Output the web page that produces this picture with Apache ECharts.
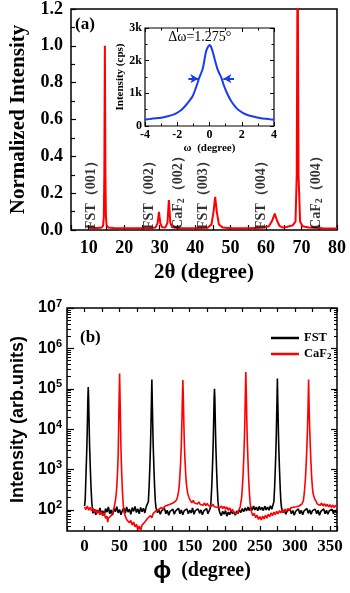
<!DOCTYPE html>
<html><head><meta charset="utf-8">
<script src="https://cdn.jsdelivr.net/npm/echarts@6/dist/echarts.min.js"></script>
<style>html,body{margin:0;padding:0;background:#fff}#c{width:350px;height:593px}</style>
</head><body><div id="c"></div>
<script>
// ---------- (a) XRD theta-2theta scan ----------
const xrdScan = [
  [10,0.012],[11,0.011],[12.5,0.011],[13.7,0.013],[14.05,0.025],[14.25,0.07],[14.4,0.3],[14.55,1.0],[14.7,0.3],[14.85,0.07],[15.05,0.025],[15.5,0.014],[17,0.011],[20,0.01],[24,0.01],[27,0.01],
  [28.8,0.013],[29.4,0.035],[29.8,0.098],[30.2,0.035],[30.7,0.015],[31.6,0.013],[32.2,0.04],[32.6,0.163],[33.0,0.04],[33.5,0.015],[35,0.011],[40,0.01],[43.5,0.012],
  [44.6,0.03],[45.2,0.1],[45.65,0.18],[46.1,0.1],[46.7,0.03],[47.8,0.013],[50,0.01],[55,0.01],[59,0.012],[60.8,0.02],[61.7,0.05],[62.45,0.089],[63.1,0.05],[63.8,0.022],
  [64.6,0.014],[65.5,0.015],[66.5,0.02],[67.5,0.025],[68.3,0.045],[68.65,0.3],[68.9,1.6],[69.15,0.3],[69.6,0.045],[70.3,0.02],[72,0.014],[76,0.01],[80,0.008]
];
const peakLabelPos = [10.95, 27.2, 35.3, 42.6, 58.9, 74.2];
const peakLabelText = ['FST\uFF08001\uFF09','FST\uFF08002\uFF09','CaF{sub|2}\uFF08002\uFF09','FST\uFF08003\uFF09','FST\uFF08004\uFF09','CaF{sub|2}\uFF08004\uFF09'];

// ---------- inset: rocking curve ----------
const rockCurve = [
  [-4,200],[-3.7,215],[-3.3,240],[-3,255],[-2.65,292],[-2.3,340],[-2.04,396],[-1.75,490],[-1.52,604],[-1.25,770],[-1.04,917],[-0.8,1229],[-0.65,1458],[-0.42,1750],[-0.22,2271],[-0.1,2420],
  [0,2480],[0.08,2440],[0.2,2271],[0.49,1750],[0.75,1458],[0.9,1229],[1.17,917],[1.35,760],[1.58,604],[1.8,490],[2.09,396],[2.4,330],[2.71,292],[3.2,240],[3.74,208],[4,195]
];
const fwhmArrowLeft = [[-1.31,1450],[-0.69,1450]];
const fwhmArrowRight = [[1.52,1450],[0.86,1450]];
const fwhmText = '\u0394\u03C9=1.275\u00B0';
const fwhmTextAt = [-0.6, 2720];

// ---------- (b) phi scans ----------
const fstScan = [
  [0,125],[1,180],[2.3,1000],[3.3,3500],[3.8,8000],[4.3,22000],[4.8,60000],[5.3,110000],[5.8,60000],[6.3,22000],[6.8,8000],[7.3,3500],[8.3,1000],[9.3,350],[10.3,160],[11.3,105],
  [12,82],[14,104],[16,76],[18,98],[20,85],[22,112],[24,78],[26,95],[28,72],[30,108],[32,88],[34,118],[36,80],[38,100],[40,74],[42,110],[44,90],[46,120],[48,84],[50,102],[52,76],[54,96],[56,112],[58,82],[60,118],[62,88],[64,104],[66,78],[68,114],[70,92],[72,122],[74,86],[76,106],[78,80],[80,115],[82,90],[84,110],[86,84],[88,120],
  [90,110],[91,160],[92,350],[93,1000],[94,3500],[94.5,8000],[95,22000],[95.5,60000],[96,170000],[96.5,60000],[97,22000],[97.5,8000],[98,3500],[99,1000],[100,350],[101,160],[102,110],
  [104,85],[106,100],[108,78],[110,96],[112,88],[114,108],[116,80],[118,98],[120,74],[122,92],[124,84],[126,104],[128,78],[130,95],[132,86],[134,110],[136,80],[138,100],[140,76],[142,94],[144,88],[146,106],[148,80],[150,98],[152,84],[154,112],[156,78],[158,96],[160,88],[162,106],[164,82],[166,100],[168,76],[170,94],[172,86],[174,108],[176,80],[178,98],
  [179.3,110],[180.3,160],[181.3,350],[182.3,1000],[183.3,3500],[183.8,8000],[184.3,22000],[184.8,60000],[185.3,100000],[185.8,60000],[186.3,22000],[186.8,8000],[187.3,3500],[188.3,1000],[189.3,350],[190.3,160],[191.3,110],
  [193,84],[195,72],[197,92],[199,78],[201,96],[203,70],[205,88],[207,76],[209,98],[211,80],[213,90],[215,74],[217,95],[219,82],[221,100],[223,86],[225,108],[227,90],[229,112],[231,94],[233,118],[235,96],[237,120],[239,98],[241,125],[243,100],[245,118],[247,95],[249,122],[251,100],[253,115],[255,96],[257,124],[259,100],[261,118],[263,98],[265,126],[267,104],
  [269,115],[270,160],[271,350],[272,1000],[273,3500],[273.5,8000],[274,22000],[274.5,60000],[275,180000],[275.5,60000],[276,22000],[276.5,8000],[277,3500],[278,1000],[279,350],[280,160],[281,110],
  [283,86],[285,100],[287,78],[289,94],[291,84],[293,104],[295,80],[297,96],[299,74],[301,92],[303,86],[305,106],[307,80],[309,98],[311,76],[313,94],[315,88],[317,108],[319,82],[321,100],[323,78],[325,96],[327,86],[329,104],[331,80],[333,98],[335,74],[337,92],[339,86],[341,106],[343,80],[345,98],[347,78],[349,95],[351,86],[353,104],[355,80],[357,98],[359,84],[360,92]
];
const caf2Scan = [
  [0,118],[2,102],[4,125],[6,98],[8,115],[10,95],[12,110],[14,88],[16,102],[18,82],[20,96],[22,76],[24,90],[26,72],[28,84],[30,62],[32,70],[33,50],[34,62],[36,56],[38,72],[40,85],[42,110],
  [44,170],[45,230],[46,380],[47,800],[48,2500],[48.5,7000],[49,29000],[49.5,84000],[50,240000],[50.5,84000],[51,29000],[51.5,9000],[52,3000],[53,800],[54,300],[55,150],[56,95],
  [58,70],[60,58],[62,64],[64,48],[66,55],[68,42],[70,50],[72,38],[74,44],[76,33],[78,40],[80,31],[82,42],[84,38],[86,50],[88,46],[90,62],[92,56],[94,72],[96,64],[98,82],[100,76],[102,94],[104,86],[106,104],[108,94],[110,115],[112,102],[114,122],[116,110],[118,130],[120,118],[122,138],[124,126],[126,148],[128,140],[130,165],
  [132,190],[134,280],[135,400],[136,700],[137,1500],[138,4000],[138.7,12000],[139.2,30000],[139.7,80000],[140.2,165000],[140.7,80000],[141.2,30000],[141.7,12000],[142.4,4000],[143.4,1500],[144.4,700],[145.5,400],[147,260],[149,200],
  [151,170],[153,150],[155,172],[157,148],[159,165],[161,140],[163,158],[165,136],[167,152],[169,130],[171,148],[173,128],[175,145],[177,126],[179,140],[181,122],[183,138],[185,120],[187,134],[189,116],[191,130],[193,112],[195,126],[197,108],[199,122],[201,104],[203,118],[205,98],[207,112],[209,92],[211,104],[213,86],[215,96],[217,80],[219,90],
  [221,95],[222,120],[224,200],[225,350],[226,700],[227,1800],[228,6000],[228.7,20000],[229.2,60000],[230,260000],[230.8,60000],[231.3,20000],[232,6000],[233,1800],[234,600],[235,280],[236,160],[237,110],
  [238,90],[240,72],[242,82],[244,64],[246,74],[248,58],[250,68],[252,56],[254,70],[256,60],[258,74],[260,62],[262,78],[264,68],[266,84],[268,72],[270,88],[272,76],[274,92],[276,80],[278,96],[280,84],[282,100],[284,88],[286,104],[288,92],[290,108],[292,96],[294,112],[296,100],[298,116],[300,104],[302,120],[304,108],[306,125],[308,115],
  [310,140],[312,170],[313,230],[314,350],[315,600],[316,1300],[317,3500],[318,11000],[318.8,40000],[319.5,170000],[320.2,40000],[321,11000],[322,3500],[323,1300],[324,600],[325,350],[326,250],[328,190],
  [330,165],[332,140],[334,155],[336,130],[338,148],[340,125],[342,142],[344,122],[346,138],[348,118],[350,135],[352,116],[354,132],[356,114],[358,130],[360,118]
];
const logMajor = [1e2,1e3,1e4,1e5,1e6,1e7];
const logMinor = [40,50,60,70,80,90];
[100,1000,10000,100000,1000000].forEach(d => { for (let k = 2; k <= 9; k++) logMinor.push(k * d); });

const SERIF = 'Liberation Serif';
const SANS = 'Liberation Sans';
const RED = '#ff0000';
const BLUE = '#1a3cf0';

const chart = echarts.init(document.getElementById('c'), null, {renderer: 'canvas'});

const noLine = {show: false, onZero: false};
const hiddenAxisCommon = {axisLine: noLine, splitLine: {show: false}, axisLabel: {show: false}};

const option = {
  animation: false,
  backgroundColor: '#fff',
  grid: [
    {left: 68, top: 8, width: 269, height: 222, show: true, borderColor: '#000', borderWidth: 1.5, backgroundColor: 'transparent'},
    {left: 145, top: 28, width: 129, height: 98, show: true, borderColor: '#000', borderWidth: 1.2, backgroundColor: '#fff'},
    {left: 67, top: 308, width: 270, height: 223, show: true, borderColor: '#000', borderWidth: 1.5, backgroundColor: 'transparent'}
  ],
  legend: {
    orient: 'vertical', left: 266, top: 326, itemGap: 2, itemWidth: 28, itemHeight: 2.5, icon: 'rect',
    data: ['FST', 'CaF2'],
    formatter: n => n === 'CaF2' ? 'CaF{sub|2}' : n,
    textStyle: {fontFamily: SERIF, fontWeight: 'bold', fontSize: 12.5, color: '#000', lineHeight: 14,
      rich: {sub: {fontFamily: SERIF, fontWeight: 'bold', fontSize: 9, verticalAlign: 'bottom', lineHeight: 14, padding: [5, 0, 0, 0]}}}
  },
  xAxis: [
    {gridIndex: 0, type: 'value', min: 5, max: 80, interval: 5,
      axisLine: noLine, splitLine: {show: false},
      axisTick: {inside: true, length: 5, lineStyle: {color: '#000', width: 1.2}},
      axisLabel: {margin: 9, fontFamily: SERIF, fontWeight: 'bold', fontSize: 18, color: '#000', formatter: v => v % 10 === 0 ? String(v) : ''},
      name: '2\u03B8 (degree)', nameLocation: 'middle', nameGap: 32,
      nameTextStyle: {fontFamily: SERIF, fontWeight: 'bold', fontSize: 21, color: '#000'}},
    {gridIndex: 1, type: 'value', min: -4, max: 4, interval: 2,
      axisLine: noLine, splitLine: {show: false},
      axisTick: {inside: true, length: 4, lineStyle: {color: '#000', width: 1}},
      minorTick: {show: true, splitNumber: 2, length: 2.5, lineStyle: {color: '#000', width: 1}},
      axisLabel: {margin: 3, fontFamily: SERIF, fontWeight: 'bold', fontSize: 12, color: '#000'},
      name: '\u03C9  (degree)', nameLocation: 'middle', nameGap: 17,
      nameTextStyle: {fontFamily: SERIF, fontWeight: 'bold', fontSize: 11, color: '#000'}},
    Object.assign({gridIndex: 1, type: 'value', position: 'top', min: -4, max: 4, interval: 2,
      axisTick: {inside: true, length: 4, lineStyle: {color: '#000', width: 1}},
      minorTick: {show: true, splitNumber: 2, length: 2.5, lineStyle: {color: '#000', width: 1}}}, hiddenAxisCommon),
    {gridIndex: 2, type: 'value', min: -25, max: 360, interval: 25,
      axisLine: noLine, splitLine: {show: false},
      axisTick: {inside: true, length: 5, lineStyle: {color: '#000', width: 1.2}},
      axisLabel: {margin: 7, fontFamily: SERIF, fontWeight: 'bold', fontSize: 17, color: '#000', formatter: v => (v >= 0 && v % 50 === 0) ? String(v) : ''},
      name: '{p|\u03D5}{t|  (degree)}', nameLocation: 'middle', nameGap: 28,
      nameTextStyle: {color: '#000', rich: {
        p: {fontFamily: SANS, fontWeight: 'bold', fontSize: 24, color: '#000'},
        t: {fontFamily: SERIF, fontWeight: 'bold', fontSize: 20, color: '#000'}}}},
    Object.assign({gridIndex: 2, type: 'value', position: 'top', min: -25, max: 360, interval: 25,
      axisTick: {inside: true, length: 4, lineStyle: {color: '#000', width: 1.2}}}, hiddenAxisCommon)
  ],
  yAxis: [
    {gridIndex: 0, type: 'value', min: 0, max: 1.2, interval: 0.2,
      axisLine: noLine, splitLine: {show: false},
      axisTick: {inside: true, length: 5, lineStyle: {color: '#000', width: 1.2}},
      minorTick: {show: true, splitNumber: 2, length: 4, lineStyle: {color: '#000', width: 1.2}},
      axisLabel: {margin: 8, fontFamily: SERIF, fontWeight: 'bold', fontSize: 18, color: '#000', formatter: v => v.toFixed(1)},
      name: 'Normalized Intensity', nameLocation: 'middle', nameGap: 42,
      nameTextStyle: {fontFamily: SERIF, fontWeight: 'bold', fontSize: 21, color: '#000'}},
    {gridIndex: 1, type: 'value', min: 0, max: 3000, interval: 1000,
      axisLine: noLine, splitLine: {show: false},
      axisTick: {inside: true, length: 4, lineStyle: {color: '#000', width: 1}},
      minorTick: {show: true, splitNumber: 2, length: 2.5, lineStyle: {color: '#000', width: 1}},
      axisLabel: {margin: 3, fontFamily: SERIF, fontWeight: 'bold', fontSize: 12, color: '#000', formatter: v => v === 0 ? '0' : (v / 1000) + 'k'},
      name: 'Intensity (cps)', nameLocation: 'middle', nameGap: 16,
      nameTextStyle: {fontFamily: SERIF, fontWeight: 'bold', fontSize: 11, color: '#000'}},
    Object.assign({gridIndex: 1, type: 'value', position: 'right', min: 0, max: 3000, interval: 1000,
      axisTick: {inside: true, length: 4, lineStyle: {color: '#000', width: 1}},
      minorTick: {show: true, splitNumber: 2, length: 2.5, lineStyle: {color: '#000', width: 1}}}, hiddenAxisCommon),
    {gridIndex: 2, type: 'log', logBase: 10, min: 30, max: 1e7,
      axisLine: noLine, splitLine: {show: false},
      axisTick: {inside: true, length: 7, customValues: logMajor, lineStyle: {color: '#000', width: 1.2}},
      axisLabel: {margin: 5, customValues: logMajor, color: '#000',
        formatter: v => '{b|10}{s|' + Math.round(Math.log10(v)) + '}',
        rich: {b: {fontFamily: SANS, fontWeight: 'bold', fontSize: 16, color: '#000', lineHeight: 20},
               s: {fontFamily: SANS, fontWeight: 'bold', fontSize: 11, color: '#000', verticalAlign: 'top', lineHeight: 11}}},
      name: 'Intensity (arb.units)', nameLocation: 'middle', nameGap: 38,
      nameTextStyle: {fontFamily: SANS, fontWeight: 'bold', fontSize: 18, color: '#000'}},
    Object.assign({gridIndex: 2, type: 'log', logBase: 10, position: 'left', min: 30, max: 1e7,
      axisTick: {inside: true, length: 4, customValues: logMinor, lineStyle: {color: '#000', width: 1}}}, hiddenAxisCommon),
    Object.assign({gridIndex: 2, type: 'log', logBase: 10, position: 'right', min: 30, max: 1e7,
      axisTick: {inside: true, length: 6, customValues: logMajor, lineStyle: {color: '#000', width: 1.2}}}, hiddenAxisCommon),
    Object.assign({gridIndex: 2, type: 'log', logBase: 10, position: 'right', min: 30, max: 1e7,
      axisTick: {inside: true, length: 3, customValues: logMinor, lineStyle: {color: '#000', width: 1}}}, hiddenAxisCommon)
  ],
  graphic: [
    {type: 'text', left: 75, top: 16, style: {text: '(a)', fontFamily: SERIF, fontWeight: 'bold', fontSize: 17, fill: '#000'}},
    {type: 'text', left: 80, top: 329, style: {text: '(b)', fontFamily: SERIF, fontWeight: 'bold', fontSize: 17, fill: '#000'}}
  ],
  series: [
    {name: 'XRD', type: 'line', xAxisIndex: 0, yAxisIndex: 0, data: xrdScan, symbol: 'none', clip: true,
      lineStyle: {color: RED, width: 2}, itemStyle: {color: RED}, z: 3},
    {name: 'peakLabels', type: 'scatter', xAxisIndex: 0, yAxisIndex: 0, symbolSize: 1, itemStyle: {color: 'transparent'},
      data: peakLabelPos.map(x => [x, 0.003]), z: 4, silent: true,
      label: {show: true, position: [0, 0], rotate: 90, align: 'left', verticalAlign: 'middle',
        formatter: p => peakLabelText[p.dataIndex],
        fontFamily: SERIF, fontWeight: 'bold', fontSize: 14, color: '#000',
        rich: {sub: {fontFamily: SERIF, fontWeight: 'bold', fontSize: 10, color: '#000', verticalAlign: 'bottom', padding: [7, 0, 0, 0]}}}},
    {name: 'rocking', type: 'line', xAxisIndex: 1, yAxisIndex: 1, data: rockCurve, symbol: 'none', smooth: 0.2,
      lineStyle: {color: BLUE, width: 2}, itemStyle: {color: BLUE}, z: 5,
      markLine: {silent: true, symbol: ['none', 'arrow'], symbolSize: [7, 8], animation: false,
        lineStyle: {color: BLUE, width: 2, type: 'solid'}, label: {show: false},
        data: [
          [{coord: fwhmArrowLeft[0]}, {coord: fwhmArrowLeft[1]}],
          [{coord: fwhmArrowRight[0]}, {coord: fwhmArrowRight[1]}]
        ]},
      markPoint: {symbol: 'rect', symbolSize: 0, silent: true,
        data: [{coord: fwhmTextAt, value: fwhmText}],
        label: {show: true, position: 'inside', formatter: fwhmText, fontFamily: SERIF, fontSize: 14, color: '#000'}}},
    {name: 'FST', type: 'line', xAxisIndex: 3, yAxisIndex: 3, data: fstScan, symbol: 'none', clip: true,
      lineStyle: {color: '#000', width: 1.6}, itemStyle: {color: '#000'}, z: 3},
    {name: 'CaF2', type: 'line', xAxisIndex: 3, yAxisIndex: 3, data: caf2Scan, symbol: 'none', clip: true,
      lineStyle: {color: RED, width: 1.6}, itemStyle: {color: RED}, z: 4}
  ]
};
chart.setOption(option);
</script>
</body></html>
